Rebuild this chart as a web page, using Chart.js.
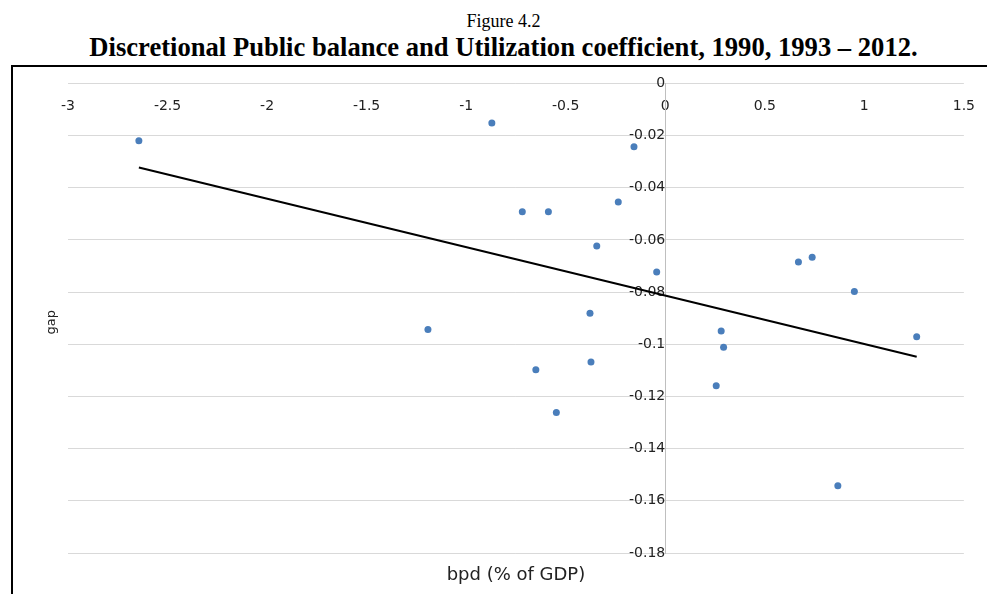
<!DOCTYPE html>
<html>
<head>
<meta charset="utf-8">
<script src="https://cdn.jsdelivr.net/npm/chart.js@4.4.1/dist/chart.umd.min.js"></script>
<style>
  body { margin: 0; background: #fff; width: 987px; height: 594px; overflow: hidden; position: relative; }
  .title { position: absolute; left: 10px; width: 987px; text-align: center; font-family: "Liberation Serif", "Times New Roman", serif; color: #000; white-space: nowrap; }
  #t1 { top: 10px; font-size: 18px; line-height: 22px; }
  #t2 { top: 32px; font-size: 26.6px; line-height: 30px; font-weight: bold; }
  #frame { position: absolute; left: 11px; top: 65px; width: 976px; height: 529px; border-left: 2px solid #000; border-top: 2px solid #000; }
  #box { position: absolute; left: 13px; top: 53px; width: 977px; height: 541px; }
</style>
</head>
<body>
<div id="t1" class="title">Figure 4.2</div>
<div id="t2" class="title">Discretional Public balance and Utilization coefficient, 1990, 1993 – 2012.</div>
<div id="frame"></div>
<div id="box"><canvas id="chart"></canvas></div>
<script>
// values
var bpd = [-2.644, -0.871, -0.157, -0.718, -0.587, -0.236, -0.344, -0.043, -0.378, -1.192, -0.373,
           -0.650, -0.547, 0.669, 0.738, 0.950, 0.281, 0.293, 0.256, 1.263, 0.867];
var gap = [-0.0220, -0.0152, -0.0243, -0.0492, -0.0492, -0.0455, -0.0623, -0.0723, -0.0881, -0.0943, -0.1068,
           -0.1098, -0.1261, -0.0685, -0.0666, -0.0798, -0.0949, -0.1011, -0.1159, -0.0971, -0.1542];

// trend line end points
var trendX = [-2.644, 1.263];
var trendY = [-0.0322, -0.1048];

var xTickValues = [-3, -2.5, -2, -1.5, -1, -0.5, 0, 0.5, 1, 1.5];
var xTickLabels = ['-3', '-2.5', '-2', '-1.5', '-1', '-0.5', '0', '0.5', '1', '1.5'];
var yTickValues = [0, -0.02, -0.04, -0.06, -0.08, -0.1, -0.12, -0.14, -0.16, -0.18];
var yTickLabels = ['0', '-0.02', '-0.04', '-0.06', '-0.08', '-0.1', '-0.12', '-0.14', '-0.16', '-0.18'];

var xTitle = 'bpd (% of GDP)';
var yTitle = 'gap';

var tickFont = { family: 'DejaVu Sans', size: 14 };

var axisTitles = {
  id: 'axisTitles',
  afterDraw: function (chart) {
    var ctx = chart.ctx;
    var a = chart.chartArea;
    ctx.save();
    ctx.fillStyle = '#222';
    ctx.textAlign = 'center';
    ctx.textBaseline = 'middle';
    ctx.font = '18px "DejaVu Sans"';
    ctx.fillText(xTitle, (a.left + a.right) / 2, a.bottom + 22);
    ctx.translate(a.left - 16, (a.top + a.bottom) / 2 + 4);
    ctx.rotate(-Math.PI / 2);
    ctx.font = '13px "DejaVu Sans"';
    ctx.fillText(yTitle, 0, 0);
    ctx.restore();
  }
};

var points = bpd.map(function (x, i) {
  return { x: x, y: gap[i] };
});
var trend = trendX.map(function (x, i) {
  return { x: x, y: trendY[i] };
});

new Chart('chart', {
  type: 'scatter',
  data: {
    datasets: [{
      label: 'gap',
      data: points,
      backgroundColor: '#4a7ebb',
      borderWidth: 0,
      pointRadius: 3.5,
      pointHoverRadius: 3.5
    }, {
      label: 'trend',
      data: trend,
      showLine: true,
      borderColor: '#000',
      borderWidth: 2,
      pointRadius: 0,
      fill: false
    }]
  },
  options: {
    responsive: true,
    maintainAspectRatio: false,
    animation: false,
    events: [],
    layout: { padding: { left: 55, right: 20, top: 0, bottom: 41 } },
    plugins: {
      legend: { display: false },
      title: { display: false },
      tooltip: { enabled: false }
    },
    scales: {
      x: {
        type: 'linear',
        position: { y: 0 },
        min: -3,
        max: 1.5,
        afterBuildTicks: function (scale) {
          scale.ticks = xTickValues.map(function (v) { return { value: v }; });
        },
        ticks: {
          autoSkip: false,
          maxRotation: 0,
          padding: 15,
          color: '#222',
          font: tickFont,
          callback: function (v, i) { return xTickLabels[i]; }
        },
        grid: { display: false, drawTicks: false },
        border: { display: false }
      },
      y: {
        type: 'linear',
        position: { x: 0 },
        min: -0.18,
        max: 0,
        afterBuildTicks: function (scale) {
          scale.ticks = yTickValues.map(function (v) { return { value: v }; });
        },
        ticks: {
          autoSkip: false,
          padding: 22,
          color: '#222',
          font: tickFont,
          callback: function (v, i) { return yTickLabels[i]; }
        },
        grid: { color: '#d9d9d9', drawTicks: false },
        border: { color: '#bfbfbf' }
      }
    }
  },
  plugins: [axisTitles]
});
</script>
</body>
</html>
